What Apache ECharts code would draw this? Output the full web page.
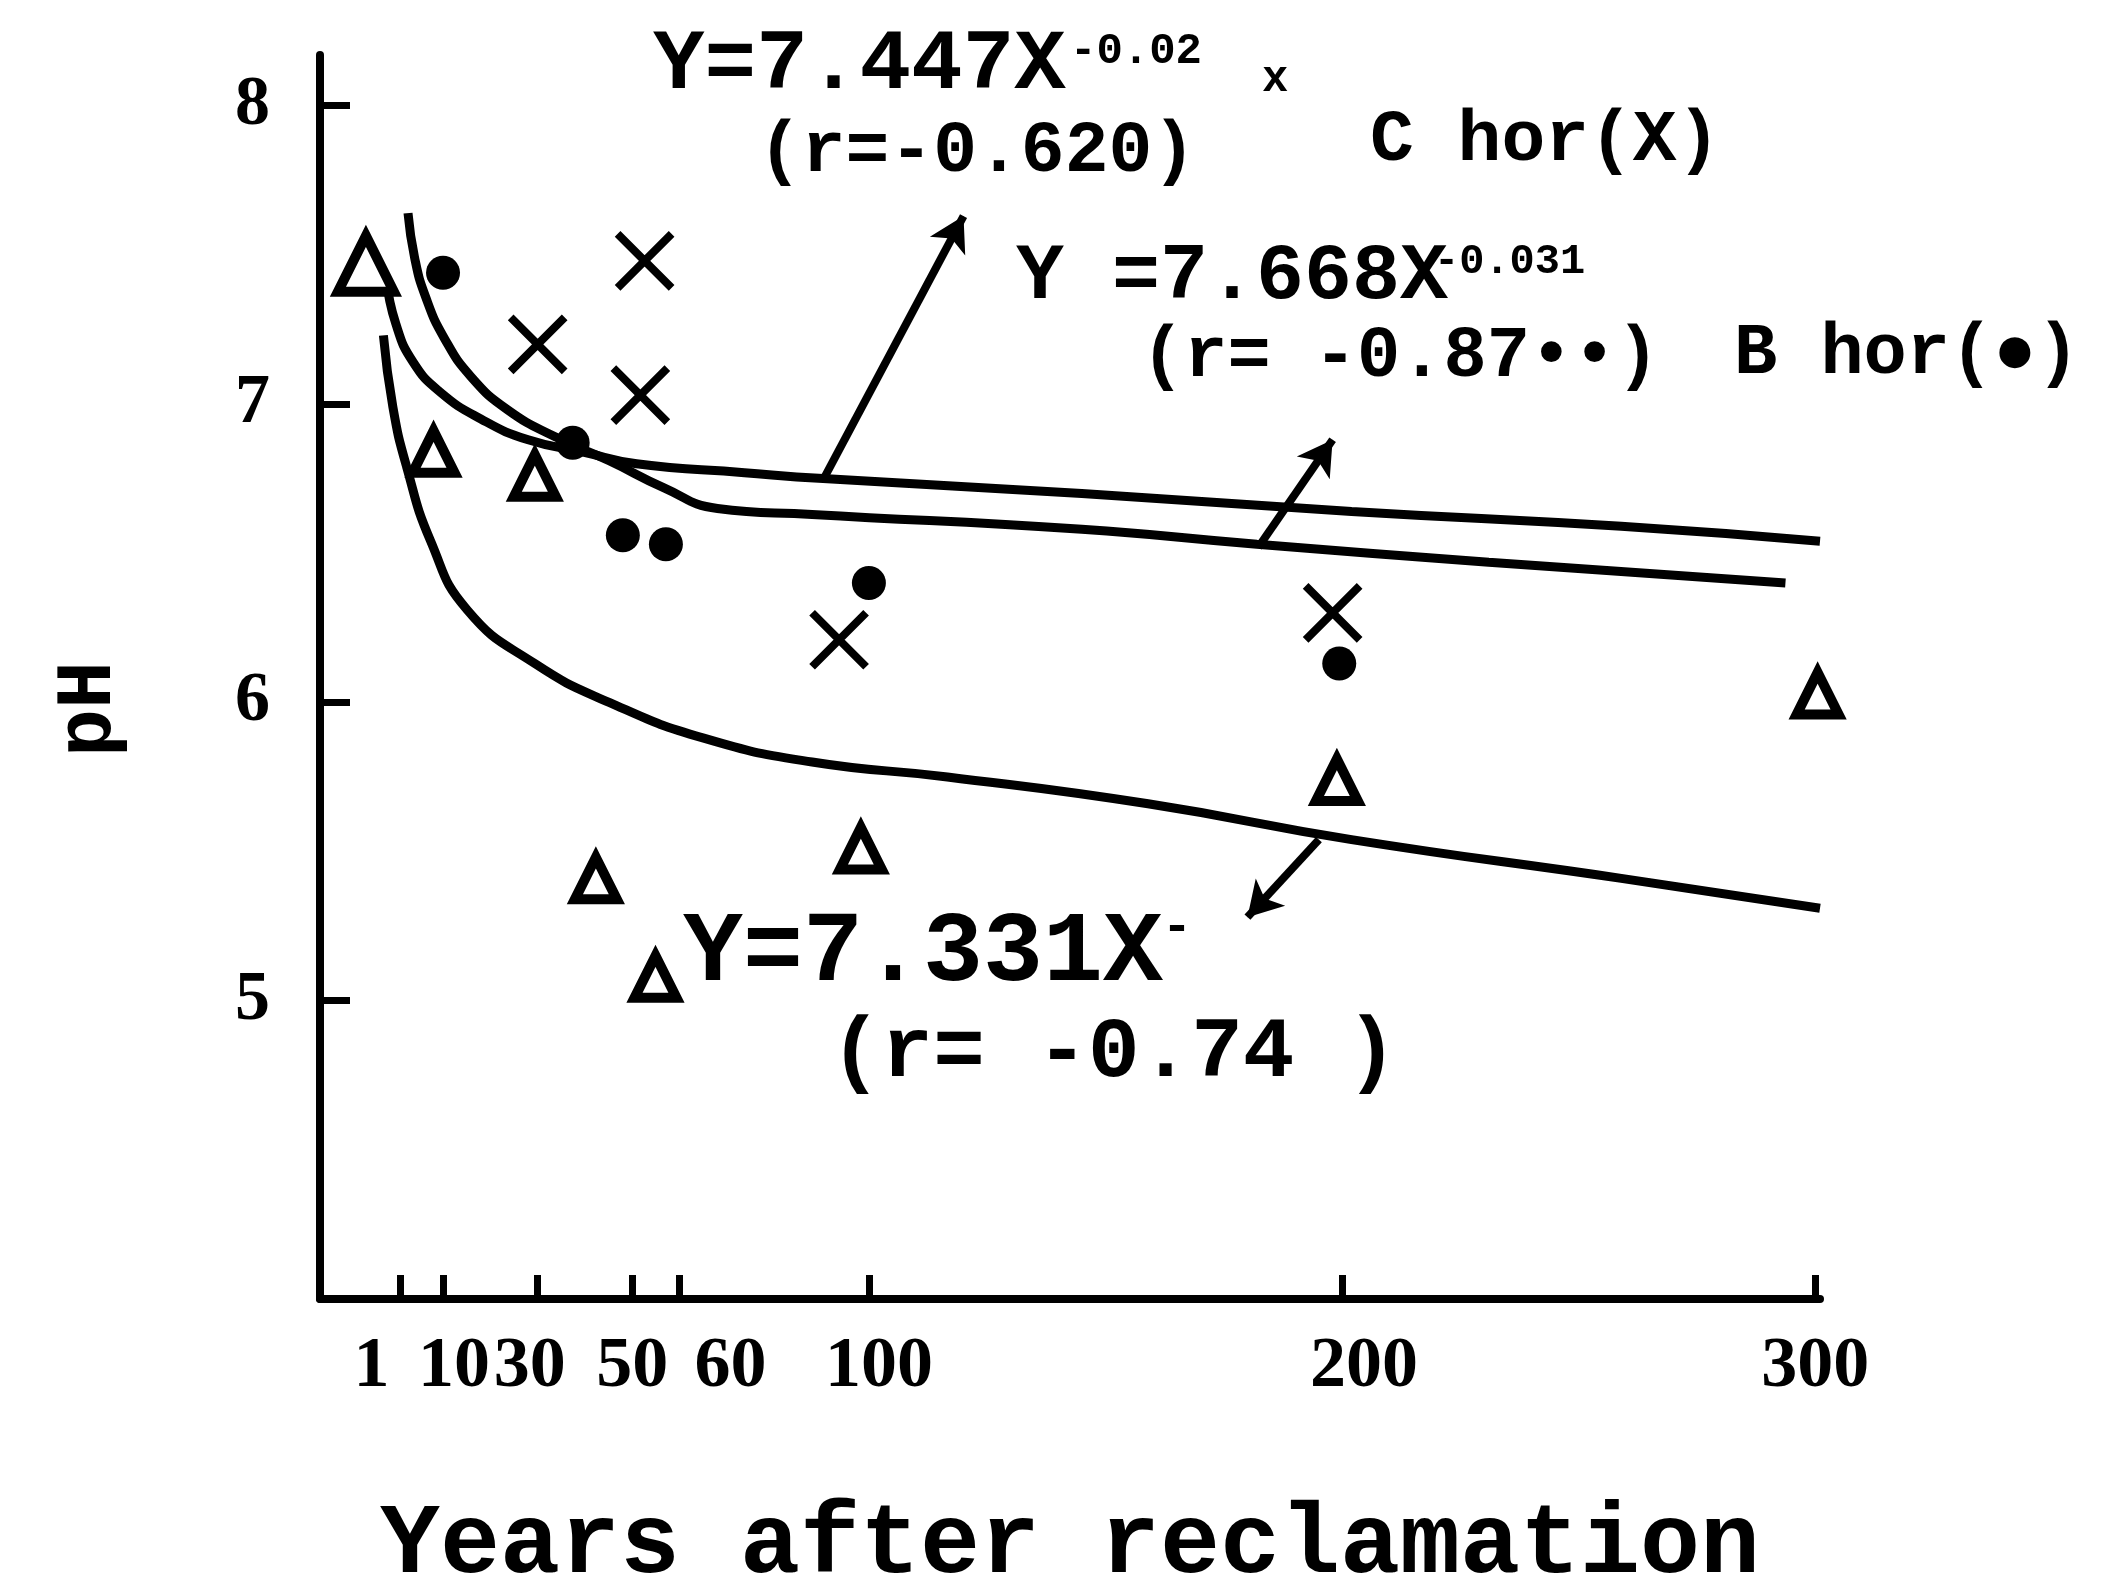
<!DOCTYPE html>
<html>
<head>
<meta charset="utf-8">
<title>pH after reclamation</title>
<script src="https://cdn.jsdelivr.net/npm/echarts@6/dist/echarts.min.js"></script>
<style>
  html, body { margin: 0; padding: 0; background: #fff; }
  #chart { width: 2119px; height: 1579px; }
</style>
</head>
<body>
<div id="chart"></div>
<script>
// Tick values on both axes
const xTickYears = [1, 10, 30, 50, 60, 100, 200, 300];
const yTickPH = [5, 6, 7, 8];

// Measured pH by horizon: [years after reclamation, pH]
const horizonA = [[-6.3, 7.47], [8.0, 6.84], [29.4, 6.76], [42.3, 5.41], [54.9, 5.08], [98.3, 5.51], [198.9, 5.74], [300.5, 6.03]];
const horizonB = [[10.0, 7.44], [37.4, 6.87], [48.0, 6.56], [57.1, 6.53], [100.0, 6.40], [199.4, 6.13]];
const horizonC = [[52.6, 7.48], [30.0, 7.20], [51.7, 7.03], [93.7, 6.21], [198.0, 6.30]];

// Fitted curves as drawn
const curveA = [[-2.6, 7.23], [-0.6, 6.99], [2.3, 6.79], [7.4, 6.54], [15.1, 6.31], [29.4, 6.13], [45.1, 6.0], [65.1, 5.88], [88, 5.80], [116.6, 5.75], [159, 5.66], [202, 5.54], [259, 5.41], [301, 5.31]];
const curveB = [[2.6, 7.64], [4.0, 7.49], [6.3, 7.36], [10.3, 7.22], [16, 7.09], [23.7, 6.98], [33.7, 6.89], [45.1, 6.81], [56.6, 6.72], [68, 6.65], [88, 6.63], [145, 6.58], [182, 6.53], [231, 6.47], [293.7, 6.40]];
const curveC = [[-2, 7.42], [0, 7.27], [3.7, 7.14], [9.4, 7.04], [18, 6.95], [28, 6.88], [39.4, 6.84], [50.9, 6.80], [73.7, 6.77], [90.3, 6.75], [145, 6.70], [202, 6.64], [259, 6.59], [301, 6.54]];

// Pointer arrows from each curve to its equation: [from, to]
const arrowC = [[90.3, 6.745], [120.0, 7.63]];
const arrowB = [[182.3, 6.52], [198.0, 6.88]];
const arrowA = [[195.1, 5.54], [180.0, 5.28]];

const INK = '#000';
const MONO = '"Liberation Mono", "DejaVu Sans Mono", monospace';
const SERIF = '"Liberation Serif", "DejaVu Serif", serif';

// horizontal nudges so crowded year labels do not collide
const labelShift = { 1: -29, 10: 11, 30: -8, 50: 0, 60: 51, 100: 10, 200: 22, 300: 0 };
const xRich = {};
xTickYears.forEach(v => {
  const d = labelShift[v] || 0;
  xRich['s' + v] = {
    fontFamily: SERIF, fontWeight: 'bold', fontSize: 72, color: INK,
    padding: d >= 0 ? [0, 0, 0, 2 * d] : [0, -2 * d, 0, 0]
  };
});

const crossPath = 'path://M0,0L20,20M20,0L0,20';

function arrowLine(pts) {
  return {
    silent: true,
    symbol: ['none', 'arrow'],
    symbolSize: [30, 34],
    label: { show: false },
    lineStyle: { color: INK, width: 8, type: 'solid' },
    emphasis: { disabled: true },
    data: [[{ coord: pts[0] }, { coord: pts[1] }]]
  };
}

function curve(name, data, arrow) {
  return {
    name, type: 'line', data,
    smooth: 0.5,
    showSymbol: false, silent: true,
    lineStyle: { color: INK, width: 9 },
    z: 2,
    markLine: arrowLine(arrow)
  };
}

function txt(x, y, text, size, extra) {
  return {
    type: 'text', x, y, silent: true,
    style: Object.assign({
      text, fill: INK, fontFamily: MONO, fontWeight: 'bold',
      fontSize: size, verticalAlign: 'middle', align: 'left'
    }, extra || {})
  };
}

const chart = echarts.init(document.getElementById('chart'), null, { renderer: 'canvas' });

chart.setOption({
  backgroundColor: '#fff',
  animation: false,
  grid: { left: 320, right: 299, top: 55, bottom: 280, containLabel: false, outerBoundsMode: 'none' },
  xAxis: {
    type: 'value', min: -16, max: 301,
    name: 'Years after reclamation',
    nameLocation: 'middle', nameGap: 198,
    nameTextStyle: { fontFamily: MONO, fontWeight: 'bold', fontSize: 100, color: INK },
    axisLine: { show: true, onZero: false, lineStyle: { color: INK, width: 8 } },
    axisTick: { show: true, inside: true, length: 24, customValues: xTickYears, lineStyle: { color: INK, width: 7 } },
    axisLabel: {
      customValues: xTickYears, margin: 32,
      formatter: v => '{s' + v + '|' + v + '}',
      rich: xRich
    },
    splitLine: { show: false }
  },
  yAxis: {
    type: 'value', min: 4, max: 8.17,
    name: 'pH',
    nameLocation: 'middle', nameGap: 190,
    nameTextStyle: { fontFamily: MONO, fontWeight: 'bold', fontSize: 80, color: INK, padding: [0, 64, 0, 0] },
    axisLine: { show: true, onZero: false, lineStyle: { color: INK, width: 8 } },
    axisTick: { show: true, inside: true, length: 30, customValues: yTickPH, lineStyle: { color: INK, width: 7 } },
    axisLabel: {
      customValues: yTickPH, margin: 50,
      fontFamily: SERIF, fontWeight: 'bold', fontSize: 70, color: INK
    },
    splitLine: { show: false }
  },
  series: [
    curve('A fit', curveA, arrowA),
    curve('B fit', curveB, arrowB),
    curve('C fit', curveC, arrowC),
    {
      name: 'A hor', type: 'scatter', data: horizonA,
      symbol: 'triangle',
      symbolSize: (v, p) => p.dataIndex === 0 ? 56 : 42,
      itemStyle: { color: '#fff', borderColor: INK, borderWidth: 10, opacity: 1 },
      z: 5
    },
    {
      name: 'B hor', type: 'scatter', data: horizonB,
      symbol: 'circle', symbolSize: 34,
      itemStyle: { color: INK, opacity: 1 },
      z: 5
    },
    {
      name: 'C hor', type: 'scatter', data: horizonC,
      symbol: crossPath, symbolSize: 54,
      itemStyle: { color: 'none', borderColor: INK, borderWidth: 8, opacity: 1 },
      z: 5
    }
  ],
  graphic: [
    txt(653, 66, 'Y=7.447X', 86),
    txt(1070, 52, '-0.02', 44),
    txt(1262, 80, 'x', 44),
    txt(758, 153, '(r=-0.620)', 73),
    txt(1370, 142, 'C hor(X)', 73),
    txt(1016, 278, 'Y =7.668X', 80),
    txt(1434, 262, '-0.031', 42),
    txt(1141, 358, '(r= -0.87\u2022\u2022)', 72),
    txt(1734, 355, 'B hor(\u25CF)', 72),
    txt(683, 955, 'Y=7.331X', 100),
    txt(1162, 928, '-', 50),
    txt(830, 1054, '(r= -0.74 )', 86)
  ]
});
</script>
</body>
</html>
